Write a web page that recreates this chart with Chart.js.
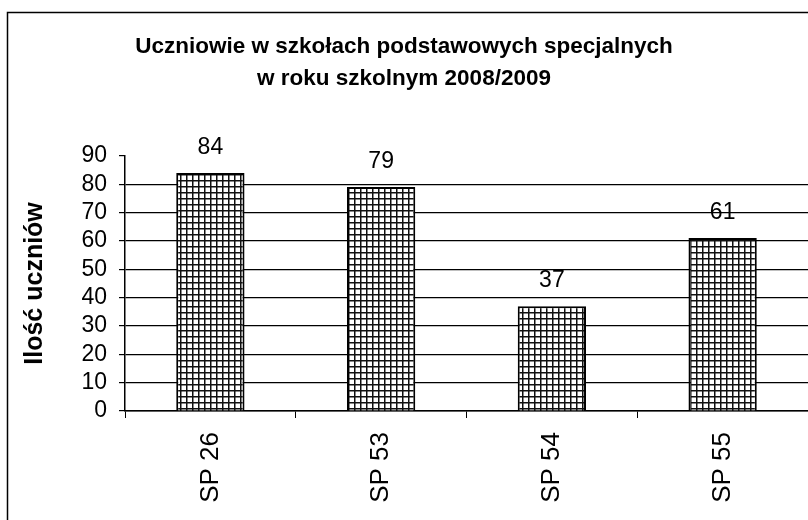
<!DOCTYPE html>
<html>
<head>
<meta charset="utf-8">
<script src="https://cdn.jsdelivr.net/npm/chart.js@4/dist/chart.umd.min.js"></script>
<style>
  html, body { margin: 0; padding: 0; background: #fff; }
  #wrap { width: 808px; height: 520px; }
</style>
</head>
<body>
<div id="wrap"><canvas id="chart" width="808" height="520"></canvas></div>
<script>
// Dane
const schools = ['SP 26', 'SP 53', 'SP 54', 'SP 55'];
const pupils = [84, 79, 37, 61];
const titleLines = ['Uczniowie w szkołach podstawowych specjalnych', 'w roku szkolnym 2008/2009'];
const axisTitle = 'Ilość uczniów';

const FONT = '"Liberation Sans", Arial, sans-serif';

// Kratka na słupkach
function hatch() {
    const c = document.createElement('canvas');
    c.width = 6;
    c.height = 6;
    const g = c.getContext('2d');
    g.fillStyle = '#fff';
    g.fillRect(0, 0, 6, 6);
    g.fillStyle = '#111';
    g.fillRect(0, 0, 6, 1.5);
    g.fillRect(0, 0, 1.5, 6);
    return g.createPattern(c, 'repeat');
}

// Ramka wokół wykresu
const frame = {
    id: 'frame',
    afterDraw(chart) {
        const ctx = chart.ctx;
        ctx.save();
        ctx.strokeStyle = '#000';
        ctx.lineWidth = 1.5;
        ctx.beginPath();
        ctx.moveTo(7.5, 530);
        ctx.lineTo(7.5, 12.5);
        ctx.lineTo(820, 12.5);
        ctx.stroke();
        ctx.restore();
    }
};

// Wartości nad słupkami
const valueLabels = {
    id: 'valueLabels',
    afterDatasetsDraw(chart) {
        const ctx = chart.ctx;
        const meta = chart.getDatasetMeta(0);
        ctx.save();
        ctx.font = '23px ' + FONT;
        ctx.fillStyle = '#000';
        ctx.textAlign = 'center';
        ctx.textBaseline = 'bottom';
        meta.data.forEach((bar, i) => {
            ctx.fillText(pupils[i], bar.x, bar.y - 14);
        });
        ctx.restore();
    }
};

new Chart(document.getElementById('chart'), {
    type: 'bar',
    data: {
        labels: schools,
        datasets: [{
            data: pupils,
            backgroundColor: hatch(),
            borderColor: '#000',
            borderWidth: 2,
            barPercentage: 0.8,
            categoryPercentage: 0.5
        }]
    },
    options: {
        responsive: false,
        animation: false,
        layout: { padding: 0 },
        plugins: {
            legend: { display: false },
            tooltip: { enabled: false },
            title: {
                display: true,
                text: titleLines,
                color: '#000',
                font: { family: FONT, size: 22.5, weight: 'bold', lineHeight: 1.42 },
                padding: { top: 31, bottom: 61 }
            }
        },
        scales: {
            x: {
                offset: true,
                grid: {
                    offset: true,
                    drawOnChartArea: false,
                    tickLength: 7,
                    tickColor: '#000'
                },
                border: { color: '#000', width: 1.5 },
                ticks: {
                    color: '#000',
                    font: { family: FONT, size: 26 },
                    minRotation: 90,
                    maxRotation: 90,
                    autoSkip: false,
                    padding: 14
                },
                afterFit(scale) { scale.height = 109; }
            },
            y: {
                min: 0,
                max: 90,
                ticks: {
                    stepSize: 10,
                    autoSkip: false,
                    color: '#000',
                    font: { family: FONT, size: 23 },
                    padding: 12
                },
                grid: {
                    color: ctx => (ctx.tick && ctx.tick.value === 90) ? 'rgba(0,0,0,0)' : '#000',
                    tickColor: '#000',
                    tickLength: 6,
                    lineWidth: 1.2
                },
                border: { color: '#000', width: 1.5 },
                title: {
                    display: true,
                    text: axisTitle,
                    color: '#000',
                    font: { family: FONT, size: 25, weight: 'bold' },
                    padding: { top: 20, bottom: 10 }
                },
                afterFit(scale) { scale.width = 125; }
            }
        }
    },
    plugins: [frame, valueLabels]
});
</script>
</body>
</html>
